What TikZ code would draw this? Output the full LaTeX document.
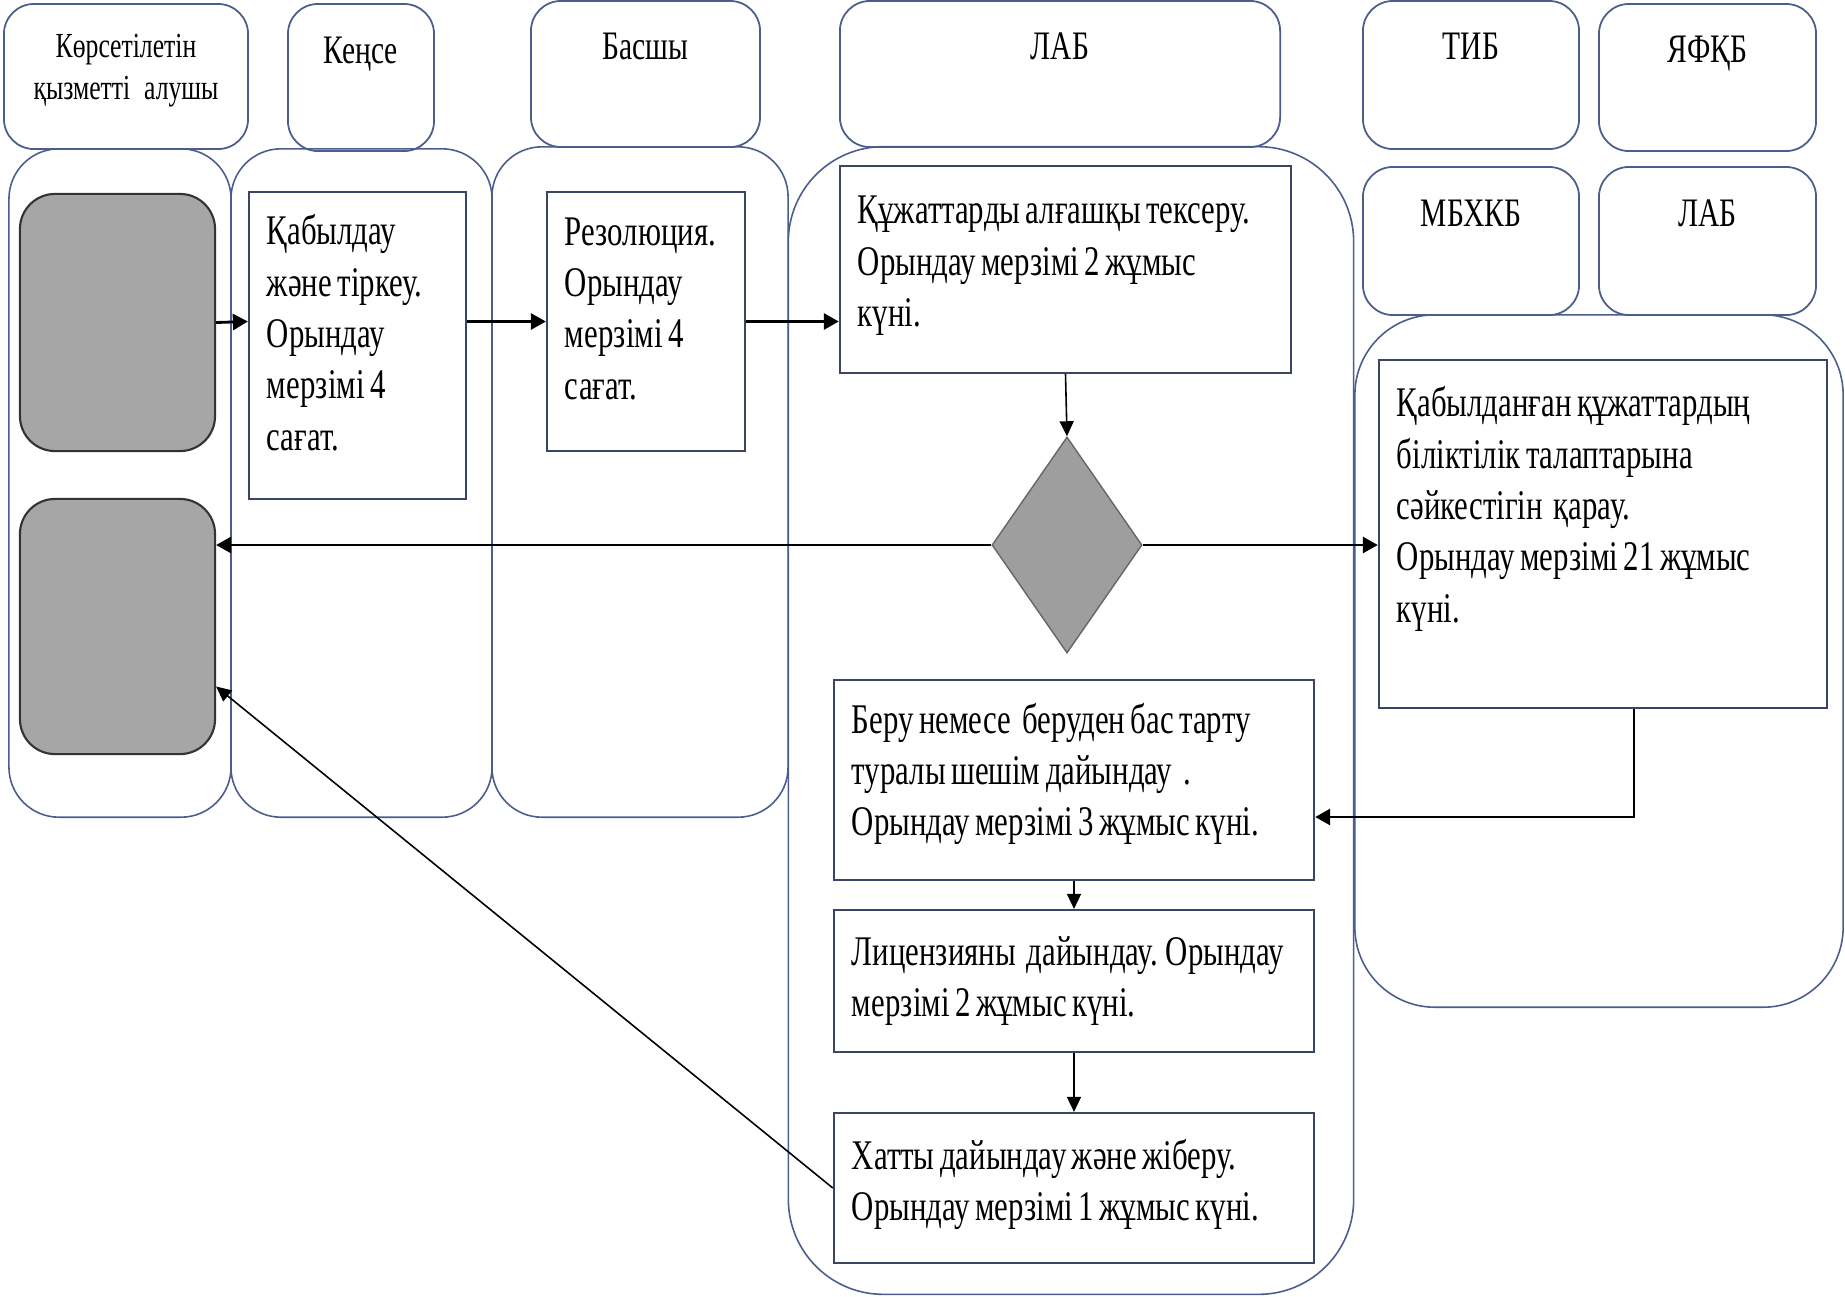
\documentclass[tikz,border=0pt]{standalone}
\usepackage{fontspec}
\setmainfont{Liberation Serif}[FakeStretch=0.73, WordSpace=0.72]
\usetikzlibrary{positioning,calc,arrows.meta,shapes.geometric}

\definecolor{laneblue}{HTML}{4A5D8C}
\definecolor{boxline}{HTML}{3B4463}
\definecolor{termgrey}{HTML}{A6A6A6}
\definecolor{decgrey}{HTML}{9E9E9E}

\begin{document}
\begin{tikzpicture}[x=0.01cm, y=-0.01cm,
    head/.style={rectangle, rounded corners=0.3cm, draw=laneblue, line width=0.5pt},
    headtxt/.style={inner sep=0pt, align=center, font=\fontsize{11.5}{13}\selectfont},
    lane/.style={rectangle, rounded corners=#1, draw=laneblue, line width=0.45pt},
    lane/.default={0.5cm},
    term/.style={rectangle, rounded corners=0.35cm, draw=black!80, line width=0.6pt, fill=termgrey},
    task/.style={rectangle, draw=boxline, line width=0.6pt, fill=white, align=flush left,
                 inner xsep=0.18cm, font=\fontsize{12}{14.6}\selectfont},
    dec/.style={diamond, draw=black!60, fill=decgrey, inner sep=0pt},
    flow/.style={-{Triangle[length=1.5mm, width=1.6mm]}, line width=0.8pt},
    thinflow/.style={-{Triangle[length=1.5mm, width=1.4mm]}, line width=0.45pt},
    ]
    \useasboundingbox (0,0) rectangle (1845,1296);

    %%% swimlanes %%%
    \node[lane, minimum width=2.22cm, minimum height=6.68cm] (l_recv) at (120,483) {};
    \node[lane, minimum width=2.61cm, minimum height=6.68cm] (l_office) at (361.5,483) {};
    \node[lane, minimum width=2.96cm, minimum height=6.70cm] (l_head) at (640,482) {};
    \node[lane=0.95cm, minimum width=5.65cm, minimum height=11.47cm] (l_lab) at (1071,720.5) {};
    \node[lane=0.8cm, minimum width=4.88cm, minimum height=6.92cm] (l_exp) at (1599,661) {};

    %%% lane headers %%%
    \node[head, minimum width=2.44cm, minimum height=1.45cm] (h_recv) at (126,76.5) {};
    \node[head, minimum width=1.46cm, minimum height=1.47cm] (h_office) at (361,77.5) {};
    \node[head, minimum width=2.29cm, minimum height=1.46cm] (h_head) at (645.5,74) {};
    \node[head, minimum width=4.40cm, minimum height=1.46cm] (h_lab) at (1060,74) {};
    \node[head, minimum width=2.16cm, minimum height=1.48cm] (h_tib) at (1471,75) {};
    \node[head, minimum width=2.17cm, minimum height=1.47cm] (h_yafkb) at (1707.5,77.5) {};
    \node[head, minimum width=2.16cm, minimum height=1.48cm] (h_mbhkb) at (1471,241) {};
    \node[head, minimum width=2.17cm, minimum height=1.48cm] (h_lab2) at (1707.5,241) {};

    \node[headtxt, font=\fontsize{10}{12}\selectfont, below=0.3cm of h_recv.north] (t_recv) {Көрсетілетін\\қызметті~~ алушы};
    \node[headtxt, below=0.33cm of h_office.north] (t_office) {Кеңсе};
    \node[headtxt, below=0.32cm of h_head.north] (t_head) {Басшы};
    \node[headtxt, below=0.32cm of h_lab.north] (t_lab) {ЛАБ};
    \node[headtxt, below=0.32cm of h_tib.north] (t_tib) {ТИБ};
    \node[headtxt, below=0.32cm of h_yafkb.north] (t_yafkb) {ЯФҚБ};
    \node[headtxt, below=0.33cm of h_mbhkb.north] (t_mbhkb) {МБХКБ};
    \node[headtxt, below=0.33cm of h_lab2.north] (t_lab2) {ЛАБ};

    %%% service receiver %%%
    \node[term, minimum width=1.95cm, minimum height=2.57cm] (start) at (117.5,322.5) {};
    \node[term, minimum width=1.95cm, minimum height=2.55cm] (finish) at (117.5,626.5) {};

    %%% process steps %%%
    \node[task, text width=1.81cm, minimum height=3.07cm] (s_reg) at (357.5,345.5)
        {Қабылдау\\және тіркеу.\\Орындау\\мерзімі 4\\сағат.\\[-0.25cm]\mbox{}};
    \node[task, text width=1.62cm, minimum height=2.59cm] (s_res) at (646,321.5)
        {Резолюция.\\Орындау\\мерзімі 4\\сағат.\\[-0.25cm]\mbox{}};
    \node[task, text width=4.15cm, minimum height=2.07cm] (s_check) at (1065.5,269.5)
        {Құжаттарды алғашқы тексеру.\\Орындау мерзімі 2 жұмыс\\күні.\\[-0.35cm]\mbox{}};
    \node[dec, minimum width=1.50cm, minimum height=2.16cm] (dec) at (1067,545) {};
    \node[task, text width=4.12cm, minimum height=3.48cm] (s_exam) at (1603,534)
        {Қабылданған құжаттардың\\біліктілік талаптарына\\сәйкестігін~ қарау.\\Орындау мерзімі 21 жұмыс\\күні.\\[0.08cm]\mbox{}};
    \node[task, text width=4.44cm, minimum height=2.00cm] (s_decide) at (1074,780)
        {Беру немесе~ беруден бас тарту\\туралы шешім дайындау~ .\\Орындау мерзімі 3 жұмыс күні.\\[-0.3cm]\mbox{}};
    \node[task, text width=4.44cm, minimum height=1.42cm] (s_lic) at (1074,981)
        {Лицензияны~ дайындау. Орындау\\мерзімі 2 жұмыс күні.};
    \node[task, text width=4.44cm, minimum height=1.50cm] (s_send) at (1074,1188)
        {Хатты дайындау және жіберу.\\Орындау мерзімі 1 жұмыс күні.\\[-0.35cm]\mbox{}};

    % forward arrows
    \draw[flow] (start.east) to (s_reg.west |- s_res.west);
    \draw[flow] (s_reg.east |- s_res.west) to (s_res.west);
    \draw[flow] (s_res.east) to (s_check.west |- s_res.east);
    \draw[thinflow] (s_check.south) to (dec.north);
    % decision arrows
    \draw[flow] (dec.west) to (finish.east |- dec.west);
    \draw[flow] (dec.east) to (s_exam.west |- dec.east);
    % back from expertise
    \coordinate (back) at (1634,817);
    \draw[flow] (s_exam.south -| back) |- (s_decide.east |- back);
    % LAB chain
    \draw[thinflow] (s_decide.south) to (s_lic.north);
    \draw[thinflow] (s_lic.south) to (s_send.north);
    \draw[thinflow] (s_send.west) to ($(finish.east)+(0,60)$);

\end{tikzpicture}
\end{document}
